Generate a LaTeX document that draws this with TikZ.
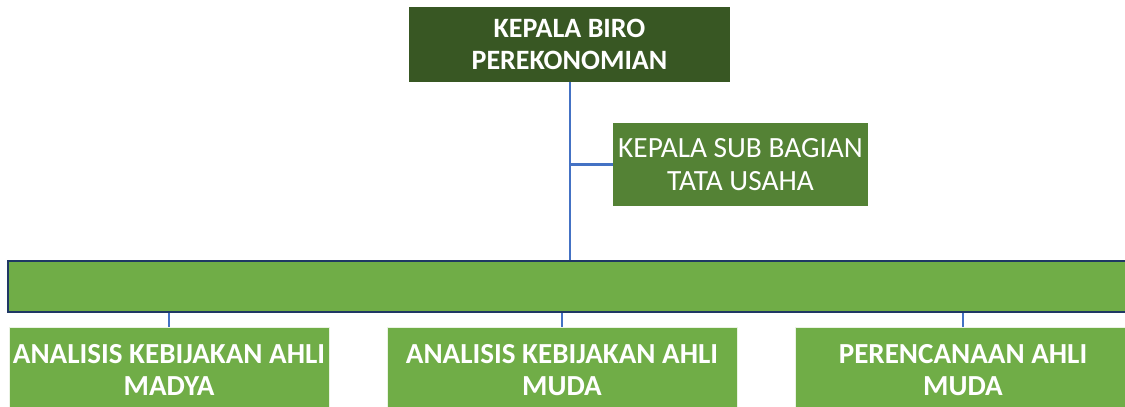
\documentclass[tikz,border=0pt]{standalone}
\usepackage{fontspec}
\setmainfont{Carlito}
\definecolor{topgreen}{HTML}{385723}
\definecolor{subgreen}{HTML}{548235}
\definecolor{lightgreen}{HTML}{70AD47}
\definecolor{linkblue}{HTML}{4472C4}
\definecolor{navy}{HTML}{1F3864}
\begin{document}
\begin{tikzpicture}[x=0.75pt,y=-0.75pt,
  box/.style={rectangle, inner sep=0pt, text=white, align=center},
  topbox/.style={box, fill=topgreen, font=\bfseries\fontsize{21}{24}\selectfont},
  subbox/.style={box, fill=subgreen, font=\fontsize{22}{24.5}\selectfont},
  bottombox/.style={box, fill=lightgreen, draw=white!85!lightgreen, line width=0.6pt, font=\bfseries\fontsize{21.8}{24}\selectfont},
  bar/.style={rectangle, fill=lightgreen, draw=navy, line width=2pt, inner sep=0pt},
  link/.style={draw=linkblue, line width=2pt}]
\useasboundingbox (0,0) rectangle (1125,407);
\clip (0,0) rectangle (1125,407);
\node[topbox, minimum width=240.75pt, minimum height=56.25pt] (top) at (569.5,44.5) {KEPALA BIRO\\PEREKONOMIAN};
\node[subbox, minimum width=191.25pt, minimum height=62.25pt] (sub) at (740.5,164.5) {KEPALA SUB BAGIAN\\TATA USAHA};
\node[bar, minimum width=849pt, minimum height=38.25pt] (bar) at (574,286.5) {};
\node[bottombox, minimum width=240pt, minimum height=64.5pt] (b1) at (169,370) {ANALISIS KEBIJAKAN AHLI\\MADYA};
\node[bottombox, minimum width=262.5pt, minimum height=64.5pt] (b2) at (562,370) {ANALISIS KEBIJAKAN AHLI\\MUDA};
\node[bottombox, minimum width=252pt, minimum height=64.5pt] (b3) at (963,370) {PERENCANAAN AHLI\\MUDA};
\coordinate (j) at (570,164.5);
\draw[link] (top.south -| j) -- (bar.north -| j);
\draw[link] (j) -- (sub.west);
\draw[link] (bar.south -| b1.north) -- (b1.north);
\draw[link] (bar.south -| b2.north) -- (b2.north);
\draw[link] (bar.south -| b3.north) -- (b3.north);
\end{tikzpicture}
\end{document}
